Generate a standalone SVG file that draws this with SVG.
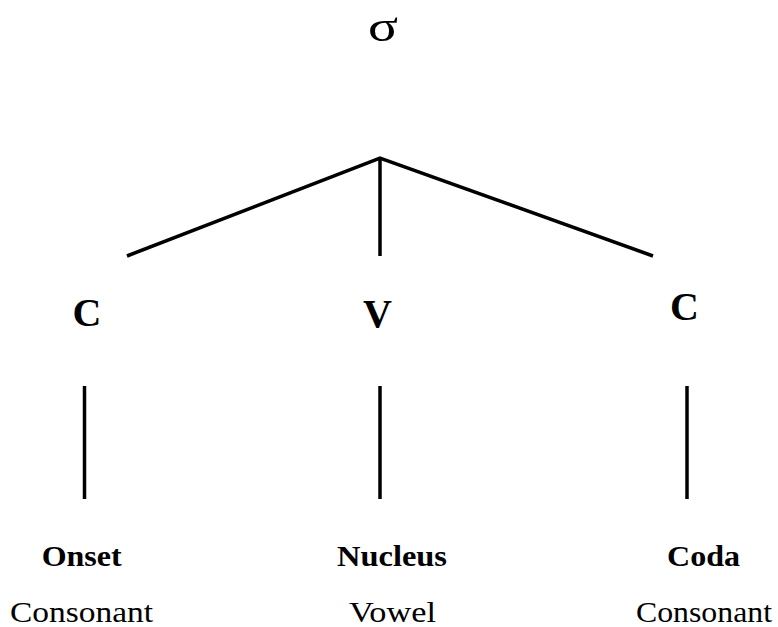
<svg xmlns="http://www.w3.org/2000/svg" width="778" height="627" viewBox="0 0 778 627">
<style>
text{font-family:'Liberation Serif','Times New Roman','DejaVu Serif',serif;fill:#000;text-anchor:middle}
.b{font-weight:bold}
.big{font-size:40px}
.lab{font-size:29px}
.sub{font-size:30px}
.ln{stroke:#000;stroke-width:3.5;fill:none;stroke-linecap:butt}
</style>
<rect width="778" height="627" fill="#fff"/>
<g id="connectors">
<path class="ln" d="M127,256 L380,158 L653,256"/>
<path class="ln" d="M380,158 L380,256"/>
<path class="ln" d="M84.5,386 L84.5,499"/>
<path class="ln" d="M380,386 L380,499"/>
<path class="ln" d="M687,386 L687,499"/>
</g>
<g id="sigma"><text x="383" y="40.5" font-size="45" textLength="30" lengthAdjust="spacingAndGlyphs">σ</text></g>
<g id="C1"><text class="b big" x="87" y="326">C</text></g>
<g id="V"><text class="b big" x="377.5" y="327">V</text></g>
<g id="C2"><text class="b big" x="684.5" y="320">C</text></g>
<g id="onset">
<text class="b lab" x="81.7" y="566" textLength="80" lengthAdjust="spacingAndGlyphs">Onset</text>
<text class="sub" x="81.5" y="622" textLength="143" lengthAdjust="spacingAndGlyphs">Consonant</text>
</g>
<g id="nucleus">
<text class="b lab" x="392" y="566" textLength="110" lengthAdjust="spacingAndGlyphs">Nucleus</text>
<text class="sub" x="392.5" y="622" textLength="87" lengthAdjust="spacingAndGlyphs">Vowel</text>
</g>
<g id="coda">
<text class="b lab" x="703.5" y="566" textLength="73" lengthAdjust="spacingAndGlyphs">Coda</text>
<text class="sub" x="704" y="622" textLength="136" lengthAdjust="spacingAndGlyphs">Consonant</text>
</g>
</svg>
